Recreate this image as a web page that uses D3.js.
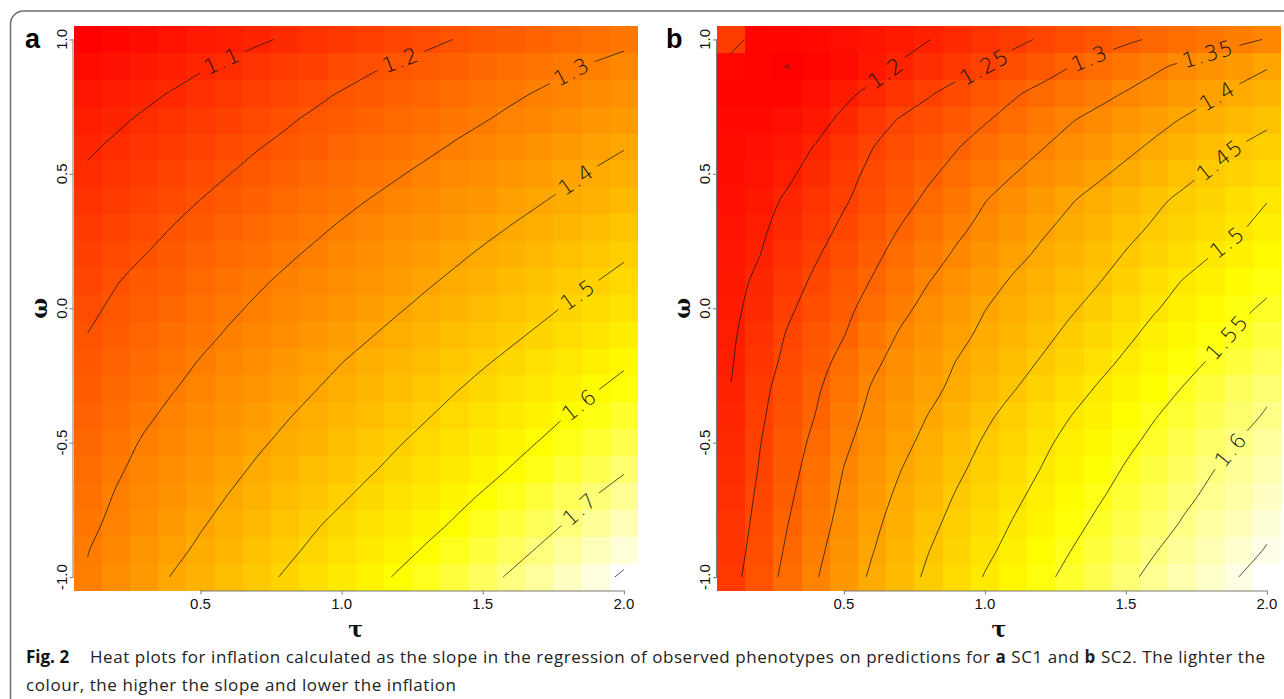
<!DOCTYPE html>
<html><head><meta charset="utf-8">
<script src="https://cdn.jsdelivr.net/npm/d3@7"></script>
<style>
html,body{margin:0;padding:0;background:#fff;}
svg{display:block;}
</style></head>
<body>
<svg id="chart" width="1284" height="699"></svg>
<script>
// ---------- data ----------
const tauValues = [0.1,0.2,0.3,0.4,0.5,0.6,0.7,0.8,0.9,1.0,1.1,1.2,1.3,1.4,1.5,1.6,1.7,1.8,1.9,2.0];
const omegaValues = [1.0,0.9,0.8,0.7,0.6,0.5,0.4,0.3,0.2,0.1,0.0,-0.1,-0.2,-0.3,-0.4,-0.5,-0.6,-0.7,-0.8,-0.9,-1.0];
const xTickValues = [0.5,1.0,1.5,2.0];
const yTickValues = [-1.0,-0.5,0.0,0.5,1.0];
const levelsSC1 = [1.1,1.2,1.3,1.4,1.5,1.6,1.7,1.8];
const levelsSC2 = [1.15,1.2,1.25,1.3,1.35,1.4,1.45,1.5,1.55,1.6,1.65];
const panelLetters = ["a","b"];
const xTitle = "τ", yTitle = "ω";

// rows: omega from 1.0 (top) to -1.0 (bottom); columns: tau 0.1 .. 2.0
const slopeSC1 = [
[1.005,1.019,1.034,1.048,1.063,1.077,1.091,1.106,1.122,1.138,1.154,1.169,1.185,1.201,1.215,1.228,1.242,1.256,1.270,1.283],
[1.030,1.046,1.062,1.078,1.094,1.110,1.126,1.143,1.159,1.175,1.192,1.207,1.221,1.235,1.249,1.264,1.278,1.292,1.307,1.322],
[1.055,1.071,1.087,1.103,1.119,1.136,1.153,1.170,1.187,1.203,1.218,1.232,1.247,1.261,1.276,1.290,1.304,1.319,1.333,1.348],
[1.075,1.091,1.108,1.125,1.142,1.159,1.176,1.193,1.209,1.224,1.238,1.253,1.268,1.283,1.297,1.312,1.327,1.342,1.357,1.372],
[1.092,1.109,1.127,1.144,1.162,1.179,1.197,1.212,1.228,1.243,1.259,1.274,1.289,1.305,1.320,1.336,1.351,1.367,1.382,1.397],
[1.108,1.126,1.145,1.163,1.181,1.199,1.216,1.232,1.248,1.264,1.280,1.296,1.312,1.328,1.343,1.359,1.375,1.390,1.406,1.421],
[1.123,1.143,1.162,1.182,1.201,1.218,1.235,1.252,1.269,1.286,1.302,1.318,1.334,1.349,1.365,1.381,1.396,1.412,1.428,1.444],
[1.139,1.160,1.180,1.201,1.218,1.236,1.254,1.271,1.289,1.306,1.322,1.338,1.354,1.370,1.386,1.402,1.418,1.434,1.450,1.467],
[1.155,1.178,1.199,1.218,1.237,1.255,1.273,1.291,1.308,1.324,1.341,1.357,1.373,1.390,1.407,1.424,1.441,1.458,1.476,1.493],
[1.170,1.197,1.217,1.235,1.254,1.273,1.292,1.309,1.326,1.343,1.359,1.376,1.393,1.410,1.428,1.446,1.464,1.482,1.499,1.517],
[1.188,1.210,1.230,1.250,1.270,1.290,1.308,1.326,1.343,1.360,1.378,1.395,1.413,1.431,1.449,1.468,1.486,1.505,1.523,1.541],
[1.201,1.222,1.244,1.265,1.286,1.306,1.324,1.343,1.361,1.379,1.397,1.416,1.435,1.453,1.472,1.490,1.509,1.528,1.547,1.566],
[1.213,1.236,1.258,1.281,1.303,1.322,1.341,1.361,1.380,1.399,1.418,1.437,1.456,1.475,1.494,1.513,1.533,1.553,1.572,1.592],
[1.225,1.249,1.273,1.297,1.317,1.337,1.357,1.377,1.397,1.417,1.437,1.456,1.476,1.496,1.516,1.536,1.556,1.576,1.597,1.617],
[1.237,1.263,1.290,1.313,1.333,1.354,1.374,1.395,1.415,1.435,1.455,1.476,1.496,1.517,1.538,1.558,1.579,1.601,1.621,1.643],
[1.249,1.278,1.306,1.327,1.348,1.369,1.391,1.412,1.433,1.454,1.475,1.496,1.517,1.538,1.560,1.581,1.602,1.625,1.647,1.669],
[1.261,1.292,1.317,1.340,1.363,1.385,1.408,1.429,1.451,1.473,1.494,1.516,1.538,1.560,1.581,1.603,1.626,1.649,1.672,1.695],
[1.273,1.304,1.329,1.353,1.378,1.402,1.425,1.448,1.470,1.493,1.516,1.538,1.560,1.583,1.605,1.629,1.653,1.677,1.701,1.723],
[1.285,1.315,1.341,1.368,1.394,1.419,1.444,1.468,1.492,1.515,1.538,1.560,1.582,1.605,1.630,1.654,1.678,1.703,1.727,1.751],
[1.298,1.327,1.356,1.384,1.411,1.436,1.461,1.486,1.511,1.534,1.558,1.582,1.606,1.630,1.655,1.680,1.705,1.730,1.755,1.779],
[1.306,1.339,1.371,1.403,1.428,1.454,1.480,1.506,1.531,1.556,1.581,1.606,1.631,1.657,1.682,1.707,1.732,1.758,1.783,1.808]
];

const slopeSC2 = [
[1.240,1.157,1.160,1.165,1.172,1.180,1.189,1.199,1.213,1.227,1.240,1.254,1.267,1.280,1.293,1.305,1.317,1.328,1.340,1.352],
[1.162,1.155,1.1495,1.156,1.168,1.184,1.203,1.219,1.234,1.249,1.267,1.283,1.299,1.314,1.328,1.343,1.357,1.370,1.384,1.397],
[1.160,1.158,1.160,1.172,1.190,1.210,1.228,1.246,1.263,1.279,1.295,1.310,1.324,1.338,1.352,1.366,1.380,1.394,1.408,1.422],
[1.164,1.165,1.172,1.186,1.209,1.232,1.253,1.268,1.282,1.297,1.313,1.330,1.347,1.361,1.375,1.388,1.402,1.416,1.430,1.443],
[1.167,1.172,1.183,1.202,1.225,1.249,1.266,1.282,1.298,1.315,1.331,1.348,1.363,1.377,1.391,1.406,1.421,1.436,1.451,1.462],
[1.170,1.178,1.193,1.215,1.238,1.258,1.276,1.294,1.312,1.330,1.349,1.364,1.379,1.394,1.409,1.424,1.440,1.454,1.467,1.480],
[1.174,1.185,1.206,1.226,1.246,1.267,1.287,1.308,1.328,1.349,1.365,1.381,1.397,1.412,1.428,1.443,1.457,1.471,1.485,1.499],
[1.178,1.193,1.214,1.235,1.257,1.279,1.301,1.321,1.342,1.360,1.377,1.394,1.409,1.425,1.440,1.454,1.468,1.482,1.496,1.511],
[1.182,1.199,1.223,1.246,1.268,1.291,1.313,1.335,1.355,1.373,1.390,1.406,1.421,1.436,1.452,1.468,1.484,1.499,1.513,1.527],
[1.186,1.208,1.233,1.257,1.280,1.302,1.326,1.349,1.368,1.386,1.404,1.418,1.433,1.448,1.465,1.483,1.501,1.514,1.528,1.542],
[1.190,1.215,1.243,1.267,1.290,1.314,1.340,1.362,1.380,1.399,1.414,1.430,1.445,1.461,1.479,1.497,1.512,1.527,1.543,1.555],
[1.194,1.223,1.253,1.277,1.299,1.328,1.354,1.372,1.390,1.408,1.424,1.440,1.458,1.475,1.493,1.510,1.525,1.540,1.555,1.567],
[1.197,1.230,1.260,1.285,1.312,1.342,1.364,1.382,1.401,1.418,1.435,1.453,1.471,1.489,1.506,1.522,1.538,1.553,1.566,1.579],
[1.201,1.238,1.268,1.294,1.324,1.353,1.371,1.390,1.409,1.429,1.448,1.466,1.485,1.503,1.519,1.535,1.551,1.566,1.582,1.594],
[1.206,1.243,1.273,1.301,1.334,1.360,1.380,1.401,1.422,1.443,1.462,1.480,1.499,1.515,1.532,1.548,1.562,1.576,1.590,1.603],
[1.211,1.248,1.279,1.310,1.343,1.367,1.389,1.411,1.433,1.454,1.473,1.492,1.510,1.526,1.543,1.558,1.573,1.587,1.601,1.614],
[1.216,1.252,1.285,1.318,1.351,1.375,1.399,1.421,1.443,1.463,1.482,1.501,1.519,1.536,1.553,1.568,1.583,1.598,1.611,1.623],
[1.222,1.257,1.292,1.326,1.357,1.383,1.408,1.431,1.453,1.472,1.492,1.511,1.529,1.546,1.562,1.577,1.593,1.606,1.619,1.633],
[1.226,1.262,1.299,1.333,1.363,1.391,1.416,1.440,1.462,1.482,1.502,1.520,1.539,1.556,1.572,1.587,1.602,1.615,1.628,1.643],
[1.230,1.268,1.306,1.340,1.370,1.398,1.424,1.449,1.470,1.492,1.511,1.531,1.549,1.566,1.582,1.598,1.612,1.625,1.639,1.652],
[1.235,1.275,1.313,1.347,1.377,1.406,1.432,1.457,1.480,1.502,1.522,1.541,1.559,1.576,1.593,1.608,1.622,1.636,1.650,1.663]
];

const captionBold = "Fig. 2";
const captionLine1 = ["Heat plots for inflation calculated as the slope in the regression of observed phenotypes on predictions for ", "a", " SC1 and ", "b", " SC2. The lighter the"];
const captionLine2 = "colour, the higher the slope and lower the inflation";

// ---------- drawing ----------
const svg = d3.select("#chart");
svg.append("rect").attr("width",1284).attr("height",699).attr("fill","#fff");
svg.append("rect").attr("x",10.5).attr("y",11).attr("width",1420).attr("height",820)
  .attr("rx",13).attr("fill","none").attr("stroke","#6e6e6e").attr("stroke-width",1.5);

function heatColors(t){
  t = Math.max(0, Math.min(1, t));
  if (t <= 0.75) return `rgb(255,${Math.round(255*t/0.75)},0)`;
  return `rgb(255,255,${Math.round(255*(t-0.75)/0.25)})`;
}

function cumLen(p){const c=[0];for(let i=1;i<p.length;i++)c.push(c[i-1]+Math.hypot(p[i][0]-p[i-1][0],p[i][1]-p[i-1][1]));return c;}
function pointAt(p,c,s){
  s=Math.max(0,Math.min(c[c.length-1],s));
  let i=1; while(i<c.length-1 && c[i]<s) i++;
  const seg=(c[i]-c[i-1])||1, f=(s-c[i-1])/seg;
  return [p[i-1][0]+f*(p[i][0]-p[i-1][0]), p[i-1][1]+f*(p[i][1]-p[i-1][1])];
}
function subPath(p,c,s0,s1){
  const out=[pointAt(p,c,s0)];
  for(let i=0;i<p.length;i++) if(c[i]>s0+0.5&&c[i]<s1-0.5) out.push(p[i]);
  out.push(pointAt(p,c,s1));
  return out;
}
function interiorRuns(ring, n, m){
  const onB = p => p[0]===0 || p[0]===n || p[1]===0 || p[1]===m;
  let pts = ring.slice();
  const a = pts[0], b = pts[pts.length-1];
  if (pts.length>1 && a[0]===b[0] && a[1]===b[1]) pts.pop();
  const k = pts.findIndex(onB);
  if (k < 0) return [{pts: pts.concat([pts[0]]), closed:true}];
  pts = pts.slice(k).concat(pts.slice(0,k));
  const runs=[]; let cur=[];
  for (const p of pts){
    if (onB(p)) { if (cur.length>1) runs.push({pts:cur}); cur=[]; }
    else cur.push(p);
  }
  if (cur.length>1) runs.push({pts:cur});
  return runs;
}

const lineColor = "#161616", lineWidth = 0.75;

function drawPanel(cfg){
  const n = tauValues.length, m = omegaValues.length;
  const dT = tauValues[1]-tauValues[0], dO = omegaValues[0]-omegaValues[1];
  const x = d3.scaleLinear().domain([tauValues[0]-dT/2, tauValues[n-1]+dT/2]).range([cfg.left, cfg.left+cfg.width]);
  const y = d3.scaleLinear().domain([omegaValues[m-1]-dO/2, omegaValues[0]+dO/2]).range([cfg.top+cfg.height, cfg.top]);
  const flat = cfg.values.flat();
  const color = d3.scaleSequential(heatColors).domain(d3.extent(flat));
  const g = svg.append("g");

  const cells = [];
  cfg.values.forEach((row,j)=>row.forEach((v,i)=>cells.push({t:tauValues[i], o:omegaValues[j], v})));
  g.append("g").attr("shape-rendering","crispEdges")
    .selectAll("rect").data(cells).join("rect")
    .attr("x", d=>x(d.t-dT/2)).attr("y", d=>y(d.o+dO/2))
    .attr("width", d=>x(d.t+dT/2)-x(d.t-dT/2)+0.3)
    .attr("height", d=>y(d.o-dO/2)-y(d.o+dO/2)+0.3)
    .attr("fill", d=>color(d.v));

  const gx = d3.scaleLinear().domain([0.5, n-0.5]).range([x(tauValues[0]), x(tauValues[n-1])]);
  const gy = d3.scaleLinear().domain([0.5, m-0.5]).range([y(omegaValues[0]), y(omegaValues[m-1])]);
  const contours = d3.contours().size([n,m]).thresholds(cfg.levels)(flat);
  const line = d3.line().curve(d3.curveCatmullRom.alpha(0.5));
  const lineClosed = d3.line().curve(d3.curveCatmullRomClosed.alpha(0.5));
  const cg = g.append("g");
  const fmt = d3.format(".2~f");
  const addPath = (d) => cg.append("path").attr("d", d).attr("fill","none")
      .attr("stroke",lineColor).attr("stroke-width",lineWidth);
  contours.forEach(ct=>{
    ct.coordinates.forEach(poly=>poly.forEach(ring=>{
      interiorRuns(ring,n,m).forEach(run=>{
        let p = run.pts.map(q=>[gx(q[0]), gy(q[1])]);
        const c0 = cumLen(p), L = c0[c0.length-1];
        if (run.closed) { addPath(lineClosed(p.slice(0,-1))); return; }
        if (L < 150) { addPath(line(p)); return; }
        const f = p[0], e = p[p.length-1];
        if ((f[0]-f[1]) > (e[0]-e[1])) p = p.reverse();
        const c = cumLen(p);
        const s = L - 56;
        const pa = pointAt(p,c,s-12), pb = pointAt(p,c,s+12), pc = pointAt(p,c,s);
        let ang = Math.atan2(pb[1]-pa[1], pb[0]-pa[0])*180/Math.PI;
        if (ang > 90) ang -= 180; if (ang < -90) ang += 180;
        const txt = cg.append("text")
          .attr("transform", `translate(${pc[0]},${pc[1]}) rotate(${ang})`)
          .attr("text-anchor","middle").attr("dominant-baseline","central")
          .attr("font-family","'DejaVu Sans', sans-serif").attr("font-weight",200)
          .attr("font-size",21).attr("letter-spacing",1.5).attr("fill","#111")
          .text(fmt(ct.value));
        const w = txt.node().getComputedTextLength();
        const gap = w/2 + 6;
        addPath(line(subPath(p,c,0,s-gap)));
        addPath(line(subPath(p,c,s+gap,L)));
      });
    }));
  });

  const bottom = cfg.top + cfg.height;
  const xa = g.append("g").attr("transform",`translate(0,${bottom})`).attr("color","#7a7a7a")
    .call(d3.axisBottom(x).tickValues(xTickValues).tickSize(4).tickSizeOuter(0).tickFormat(""));
  xa.select(".domain").attr("d", `M${x(xTickValues[0])},0.5H${x(xTickValues[xTickValues.length-1])}`);
  const ya = g.append("g").attr("transform",`translate(${cfg.left},0)`).attr("color","#7a7a7a")
    .call(d3.axisLeft(y).tickValues(yTickValues).tickSize(4).tickSizeOuter(0).tickFormat(""));
  ya.select(".domain").attr("d", `M-0.5,${y(yTickValues[0])}V${y(yTickValues[yTickValues.length-1])}`);

  g.selectAll("text.xl").data(xTickValues).join("text").attr("class","xl")
    .attr("x", d=>x(d)).attr("y", bottom+13).attr("text-anchor","middle").attr("dominant-baseline","central")
    .attr("font-family","'Liberation Sans', Arial, sans-serif").attr("font-size",15).attr("fill","#111")
    .text(d=>d.toFixed(1));
  g.selectAll("text.yl").data(yTickValues).join("text").attr("class","yl")
    .attr("transform", d=>`translate(${cfg.left-12.5},${y(d)}) rotate(-90)`)
    .attr("text-anchor","middle").attr("dominant-baseline","central")
    .attr("font-family","'Liberation Sans', Arial, sans-serif").attr("font-size",15).attr("fill","#111")
    .text(d=>d.toFixed(1));

  g.append("text").attr("x", cfg.left+cfg.width/2).attr("y", bottom+38)
    .attr("text-anchor","middle").attr("dominant-baseline","central")
    .attr("font-family","'DejaVu Serif', serif").attr("font-size",22).attr("font-weight","bold").attr("fill","#111").text(xTitle);
  g.append("text").attr("transform",`translate(${cfg.left-35},${cfg.top+cfg.height/2}) rotate(-90)`)
    .attr("text-anchor","middle").attr("dominant-baseline","central")
    .attr("font-family","'DejaVu Serif', serif").attr("font-size",22).attr("font-weight","bold").attr("fill","#111").text(yTitle);

  g.append("text").attr("x", cfg.letterX).attr("y", 48)
    .attr("font-family","'Liberation Sans', Arial, sans-serif").attr("font-weight","bold")
    .attr("font-size",27).attr("fill","#000").text(cfg.letter);
}

drawPanel({values: slopeSC1, levels: levelsSC1, left: 73.5, top: 26, width: 564.5, height: 564.5, letter: panelLetters[0], letterX: 25});
drawPanel({values: slopeSC2, levels: levelsSC2, left: 717, top: 26, width: 564, height: 564.5, letter: panelLetters[1], letterX: 666});

const capFont = "'Open Sans', 'Noto Sans', sans-serif";
svg.append("text").attr("x",26).attr("y",663).attr("font-family",capFont).attr("font-weight","bold")
  .attr("font-size",17).attr("fill","#111").text(captionBold);
const l1 = svg.append("text").attr("x",90).attr("y",663).attr("font-family",capFont)
  .attr("font-size",17).attr("fill","#222").attr("textLength",1175).attr("lengthAdjust","spacing");
captionLine1.forEach((s,i)=>l1.append("tspan").attr("font-weight", i%2===1 ? "bold" : "normal").text(s));
svg.append("text").attr("x",26).attr("y",691).attr("font-family",capFont)
  .attr("font-size",17).attr("fill","#222").attr("textLength",430).attr("lengthAdjust","spacing")
  .text(captionLine2);
</script>
</body></html>
